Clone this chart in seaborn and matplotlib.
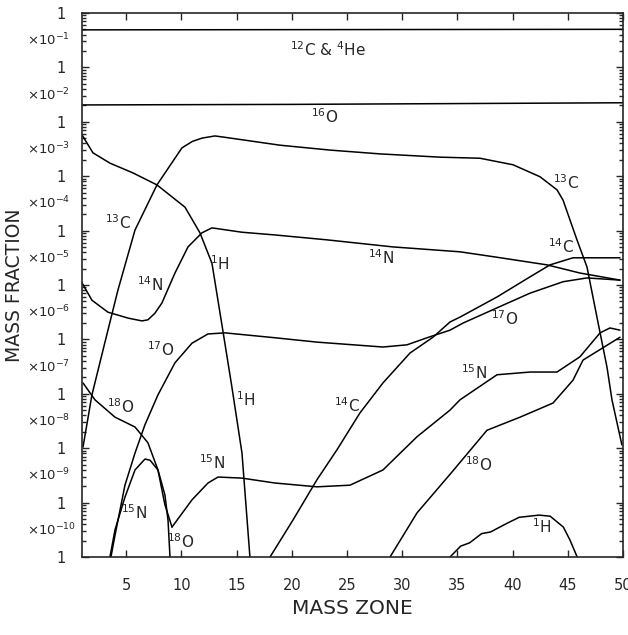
import numpy as np
import pandas as pd
import matplotlib
matplotlib.use('Agg')
import matplotlib.pyplot as plt
from matplotlib.ticker import LogLocator, NullFormatter
import seaborn as sns

# mass zone and log10(mass fraction)
he_zone = [1.0, 50.0]
he_log = [-0.31, -0.30]

o16_zone = [1.0, 20.0, 50.0]
o16_log = [-1.69, -1.68, -1.65]

h1_zone = [1.0, 1.99, 3.53, 5.62, 7.79, 10.33, 11.68, 12.77, 13.68, 14.58, 15.49, 16.21]
h1_log = [-2.24, -2.57, -2.76, -2.94, -3.16, -3.57, -4.04, -4.60, -5.74, -6.88, -8.09, -10.0]

h1b_zone = [34.33, 35.3, 36.1, 37.2, 38.0, 39.5, 40.6, 41.5, 42.4, 43.4, 44.6, 45.2, 45.85]
h1b_log = [-10.0, -9.80, -9.74, -9.57, -9.54, -9.38, -9.27, -9.25, -9.23, -9.25, -9.45, -9.69, -10.0]

c13_zone = [1.09, 1.90, 3.35, 4.26, 5.80, 7.79, 10.05, 11.0, 11.87, 13.04, 13.77, 18.93, 23.46,
            27.99, 33.42, 37.05, 40.04, 42.48, 44.02, 44.57, 45.83, 46.74, 47.64, 48.55, 49.0, 49.9]
c13_log = [-7.98, -7.02, -5.83, -5.09, -3.99, -3.16, -2.48, -2.36, -2.30, -2.26, -2.28, -2.43, -2.52,
           -2.59, -2.65, -2.67, -2.79, -3.01, -3.25, -3.44, -4.17, -4.67, -5.59, -6.51, -7.11, -7.94]

n14_zone = [1.0, 1.90, 3.35, 5.2, 6.43, 6.97, 7.6, 8.24, 9.42, 10.6, 11.87, 12.77, 15.49, 18.48,
            23.19, 29.17, 35.24, 38.59, 43.12, 46.1, 49.73]
n14_log = [-4.96, -5.28, -5.50, -5.61, -5.66, -5.64, -5.52, -5.33, -4.78, -4.30, -4.04, -3.95, -4.03, -4.08,
           -4.17, -4.30, -4.39, -4.49, -4.63, -4.78, -4.91]

o17_zone = [3.62, 3.99, 4.89, 5.80, 6.70, 7.88, 9.42, 10.96, 12.41, 13.95, 18.48, 22.28,
            28.26, 30.43, 32.25, 34.33, 35.51, 38.59, 41.58, 44.57, 46.74, 49.73]
o17_log = [-10.0, -9.6, -8.68, -8.09, -7.57, -7.02, -6.43, -6.07, -5.90, -5.88, -5.97, -6.05,
           -6.14, -6.10, -5.97, -5.83, -5.70, -5.42, -5.15, -4.94, -4.87, -4.91]

n15a_zone = [3.53, 3.99, 4.89, 5.80, 6.70, 7.16, 7.88, 8.51, 8.79, 8.97]
n15a_log = [-10.0, -9.5, -8.90, -8.40, -8.20, -8.22, -8.40, -8.86, -9.32, -10.0]

n15_zone = [9.15, 10.96, 12.41, 13.32, 15.49, 18.48, 22.28, 25.27, 28.26, 31.34, 34.33, 35.24,
            38.59, 41.58, 44.02, 46.1, 47.92, 48.82, 49.73]
n15_log = [-9.45, -8.95, -8.64, -8.53, -8.55, -8.64, -8.71, -8.68, -8.40, -7.79, -7.30, -7.11,
           -6.65, -6.60, -6.60, -6.32, -5.88, -5.79, -5.83]

o18a_zone = [1.09, 2.17, 3.99, 5.80, 6.97, 7.88, 8.51, 9.15]
o18a_log = [-6.80, -7.11, -7.43, -7.61, -7.90, -8.40, -9.04, -9.45]

o18_zone = [28.9, 31.34, 34.5, 37.68, 40.67, 43.66, 45.47, 46.38, 49.73]
o18_log = [-10.0, -9.19, -8.44, -7.67, -7.43, -7.17, -6.75, -6.38, -5.96]

c14_zone = [18.03, 20.11, 22.28, 24.09, 26.18, 28.26, 30.71, 32.79, 34.33, 35.24, 38.59,
            41.58, 43.39, 45.47, 49.73]
c14_log = [-10.0, -9.32, -8.58, -8.03, -7.35, -6.80, -6.25, -5.96, -5.68, -5.59, -5.22,
           -4.85, -4.63, -4.50, -4.50]

label_text = [r'$^{12}$C & $^{4}$He', r'$^{16}$O', r'$^{13}$C', r'$^{13}$C', r'$^{14}$N',
              r'$^{1}$H', r'$^{14}$N', r'$^{14}$C', r'$^{17}$O', r'$^{17}$O', r'$^{15}$N',
              r'$^{18}$O', r'$^{1}$H', r'$^{14}$C', r'$^{15}$N', r'$^{18}$O', r'$^{15}$N',
              r'$^{18}$O', r'$^{1}$H']
label_zone = [23.3, 23.0, 44.8, 4.26, 7.16, 13.5, 28.1, 44.4, 39.3, 8.15, 36.5, 4.53, 15.85,
              25.0, 12.77, 36.9, 5.7, 9.96, 42.6]
label_log = [-0.68, -1.91, -3.11, -3.86, -5.0, -4.61, -4.49, -4.30, -5.61, -6.19, -6.62,
             -7.24, -7.11, -7.21, -8.27, -8.31, -9.19, -9.71, -9.45]

x_ticks = [5, 10, 15, 20, 25, 30, 35, 40, 45, 50]

segments = {
    'he': (he_zone, he_log), 'o16': (o16_zone, o16_log), 'h1': (h1_zone, h1_log),
    'h1b': (h1b_zone, h1b_log), 'c13': (c13_zone, c13_log), 'n14': (n14_zone, n14_log),
    'o17': (o17_zone, o17_log), 'n15a': (n15a_zone, n15a_log), 'n15': (n15_zone, n15_log),
    'o18a': (o18a_zone, o18a_log), 'o18': (o18_zone, o18_log), 'c14': (c14_zone, c14_log),
}
df = pd.concat([pd.DataFrame({'zone': z, 'frac': 10.0 ** np.array(l), 'seg': k})
                for k, (z, l) in segments.items()], ignore_index=True)

sns.set_style('ticks')
plt.rcParams['font.family'] = ['DejaVu Sans']
plt.rcParams['mathtext.fontset'] = 'dejavusans'

fig = plt.figure(figsize=(6.28, 6.35), dpi=100)
ax = fig.add_axes([82 / 628, 1 - 557 / 635, 541 / 628, 544 / 635])

sns.lineplot(data=df, x='zone', y='frac', units='seg', estimator=None, sort=False,
             color='black', lw=1.1, ax=ax, legend=False)

ax.set_yscale('log')
ax.set_xlim(1, 50)
ax.set_ylim(1e-10, 1)
ax.set_xlabel('')
ax.set_ylabel('')

ax.set_xticks(x_ticks)
ax.set_xticklabels([str(t) for t in x_ticks], fontsize=10.5)
ax.set_yticks(10.0 ** np.arange(-10, 1))
ax.set_yticklabels(['1'] * 11, fontsize=10.5)
ax.yaxis.set_minor_locator(LogLocator(base=10, subs=np.arange(2, 10), numticks=100))
ax.yaxis.set_minor_formatter(NullFormatter())

ax.tick_params(axis='both', which='both', direction='in', top=True, right=True, width=1.0)
ax.tick_params(axis='x', which='major', length=5, pad=15)
ax.tick_params(axis='y', which='major', length=5, pad=12)
ax.tick_params(axis='y', which='minor', length=3)
for s in ax.spines.values():
    s.set_linewidth(1.2)

for n in range(1, 11):
    ax.text(-0.1017, 10.0 ** (-n + 0.5), rf'$\times10^{{-{n}}}$', transform=ax.get_yaxis_transform(),
            ha='left', va='center', fontsize=9.5)

for t, xz, lg in zip(label_text, label_zone, label_log):
    ax.text(xz, 10.0 ** lg, t, ha='center', va='center', fontsize=11)

fig.text(15 / 628, 1 - 285 / 635, 'MASS FRACTION', rotation=90, ha='center', va='center',
         fontsize=13.5)
fig.text(352 / 628, 1 - 608 / 635, 'MASS ZONE', ha='center', va='center', fontsize=14.5)

fig.savefig('out.png', dpi=100)
